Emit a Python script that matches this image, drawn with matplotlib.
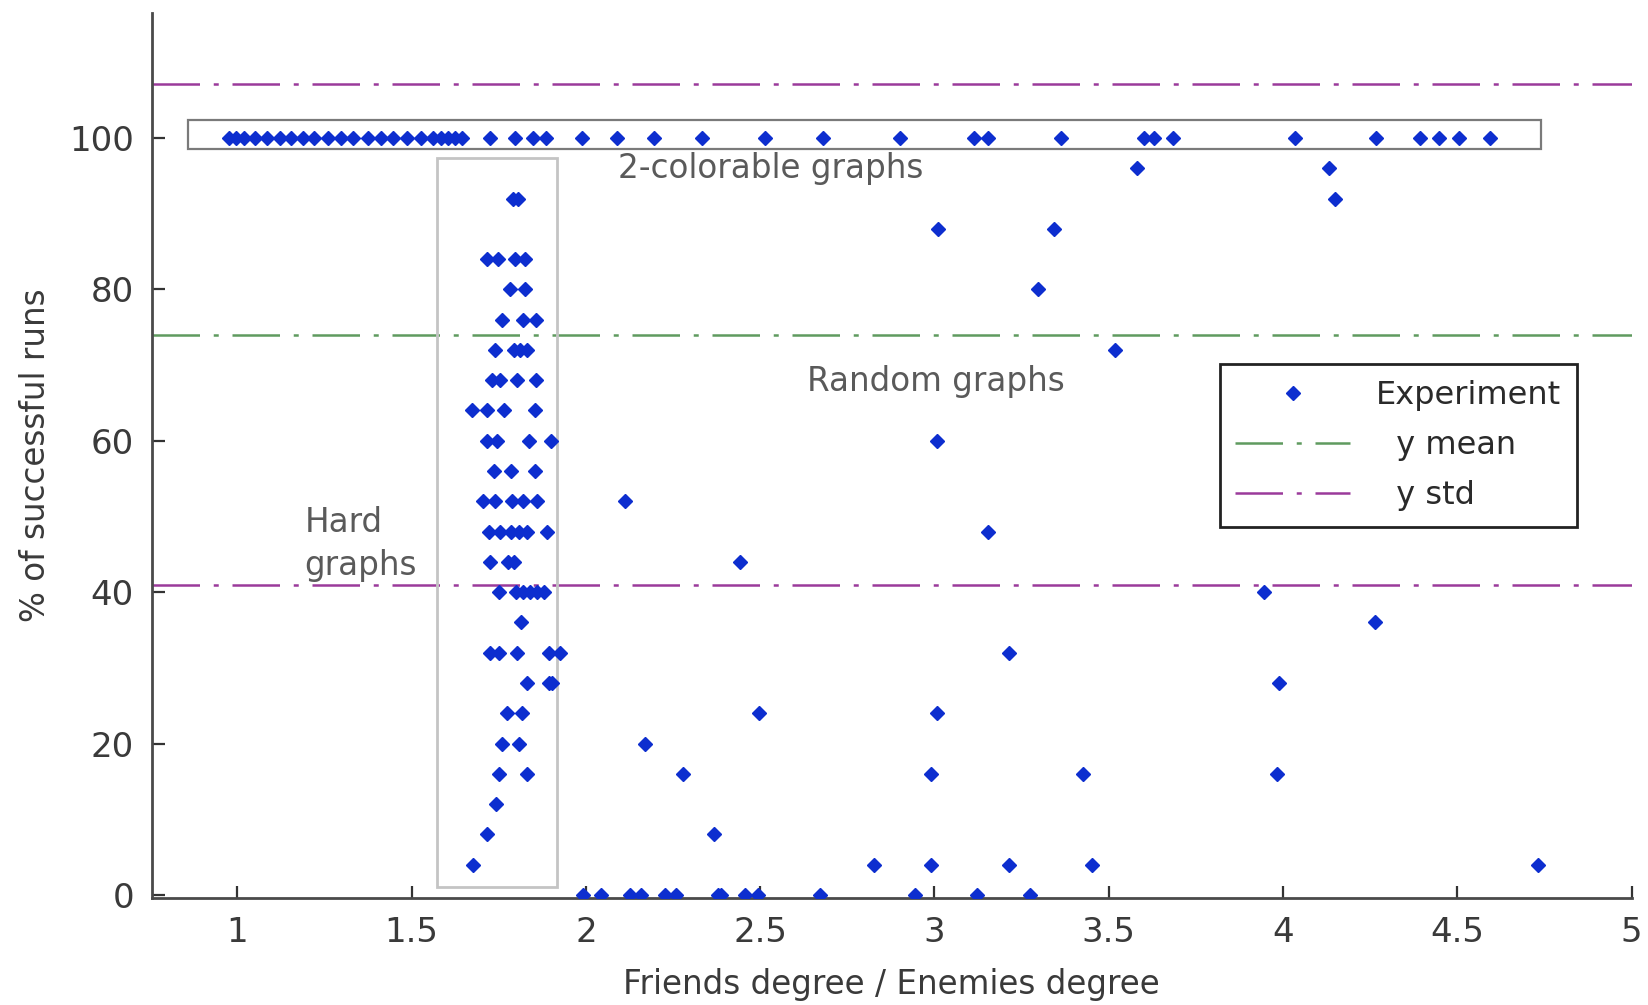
import numpy as np
import matplotlib.pyplot as plt
from matplotlib.patches import Rectangle

plt.rcParams["font.family"] = ["DejaVu Sans"]

# points at 100 %
top_x = [0.976, 0.995, 1.02, 1.052, 1.084, 1.123, 1.155, 1.187, 1.219, 1.259,
         1.296, 1.333, 1.374, 1.411, 1.447, 1.488, 1.526, 1.560, 1.583, 1.603,
         1.624, 1.644, 1.726, 1.796, 1.848, 1.885, 1.989, 2.089, 2.195, 2.333,
         2.514, 2.681, 2.900, 3.113, 3.155, 3.364, 3.601, 3.629, 3.684, 4.035,
         4.267, 4.392, 4.448, 4.504, 4.594]

# points at 0 %
zero_x = [1.991, 2.043, 2.126, 2.158, 2.227, 2.259, 2.379, 2.388, 2.456, 2.494,
          2.672, 2.945, 3.121, 3.275]

# hard graphs cluster
hard_x = [1.790, 1.806,
          1.716, 1.748, 1.798, 1.825,
          1.782, 1.825,
          1.760, 1.819, 1.857,
          1.740, 1.793, 1.812, 1.831,
          1.731, 1.755, 1.803, 1.857,
          1.673, 1.716, 1.764, 1.853,
          1.716, 1.745, 1.836, 1.899,
          1.736, 1.784, 1.855,
          1.705, 1.740, 1.788, 1.820, 1.860,
          1.721, 1.755, 1.784, 1.807, 1.831, 1.889,
          1.726, 1.776, 1.793,
          1.750, 1.800, 1.820, 1.840, 1.860, 1.879,
          1.815,
          1.726, 1.750, 1.803, 1.894, 1.927,
          1.831, 1.894, 1.903,
          1.774, 1.817,
          1.760, 1.807,
          1.750, 1.831,
          1.743,
          1.716,
          1.677]
hard_y = [92, 92,
          84, 84, 84, 84,
          80, 80,
          76, 76, 76,
          72, 72, 72, 72,
          68, 68, 68, 68,
          64, 64, 64, 64,
          60, 60, 60, 60,
          56, 56, 56,
          52, 52, 52, 52, 52,
          48, 48, 48, 48, 48, 48,
          44, 44, 44,
          40, 40, 40, 40, 40, 40,
          36,
          32, 32, 32, 32, 32,
          28, 28, 28,
          24, 24,
          20, 20,
          16, 16,
          12,
          8,
          4]

# remaining scattered points
other_x = [3.580, 4.132, 4.150, 3.011, 3.342, 3.297, 3.517, 3.008, 2.112, 3.155,
           2.441, 3.945, 4.265, 3.213, 3.990, 3.008, 2.498, 2.170, 2.278, 2.990,
           3.427, 3.984, 2.368, 2.827, 2.990, 3.213, 3.451, 4.732]
other_y = [96, 96, 92, 88, 88, 80, 72, 60, 52, 48,
           44, 40, 36, 32, 28, 24, 24, 20, 16, 16,
           16, 16, 8, 4, 4, 4, 4, 4]

y_mean = 74.0
y_std = 33.1

x = np.concatenate([top_x, zero_x, hard_x, other_x])
y = np.concatenate([np.full(len(top_x), 100), np.zeros(len(zero_x)), hard_y, other_y])

fig = plt.figure(figsize=(16.48, 10.05), dpi=100)
ax = fig.add_axes([0.0922, 0.1065, 0.8978, 0.8805])

dash = (0, (19, 5.5, 2, 5.5))
ax.axhline(y_mean, color="#5f9a5f", lw=1.8, linestyle=dash, label="  y mean", zorder=2)
ax.axhline(y_mean + y_std, color="#9b3a9b", lw=1.8, linestyle=dash, label="  y std", zorder=2)
ax.axhline(y_mean - y_std, color="#9b3a9b", lw=1.8, linestyle=dash, zorder=2)

# boxes around groups
ax.add_patch(Rectangle((0.858, 98.6), 3.883, 3.8, fill=False, ec="#7a7a7a", lw=1.6, zorder=3))
ax.add_patch(Rectangle((1.573, 1.0), 0.343, 96.4, fill=False, ec="#c4c4c4", lw=2, zorder=3))

ax.plot(x, y, linestyle="none", marker="D", ms=6.8, color="#0d2ecf",
        label="Experiment", zorder=4)

txt = dict(fontsize=23.5, color="#5a5a5a", va="center", ha="left")
ax.text(2.091, 96.0, "2-colorable graphs", **txt)
ax.text(2.634, 67.8, "Random graphs", **txt)
ax.text(1.193, 49.2, "Hard", **txt)
ax.text(1.193, 43.5, "graphs", **txt)

ax.set_xlim(0.755, 5.0)
ax.set_ylim(-0.4, 116.5)
ax.set_xticks([1, 1.5, 2, 2.5, 3, 3.5, 4, 4.5, 5])
ax.set_xticklabels(["1", "1.5", "2", "2.5", "3", "3.5", "4", "4.5", "5"])
ax.set_yticks([0, 20, 40, 60, 80, 100])

for side in ["top", "right"]:
    ax.spines[side].set_visible(False)
for side in ["left", "bottom"]:
    ax.spines[side].set_color("#4a4a4a")
    ax.spines[side].set_linewidth(2)
ax.tick_params(direction="in", length=9, width=1.6, color="#333333",
               labelsize=24.5, labelcolor="#3a3a3a", pad=13)

ax.set_xlabel("Friends degree / Enemies degree", fontsize=23.5, color="#3a3a3a", labelpad=14)
ax.set_ylabel("% of successful runs", fontsize=23.5, color="#3a3a3a", labelpad=12)

handles, labels = ax.get_legend_handles_labels()
order = [2, 0, 1]
leg = ax.legend([handles[i] for i in order], [labels[i] for i in order],
                loc="upper left", bbox_to_anchor=(0.740, 0.638),
                bbox_transform=fig.transFigure, fontsize=23, handlelength=3.6,
                fancybox=False, framealpha=1, edgecolor="#222222",
                borderpad=0.5, labelspacing=0.6, handletextpad=0.8,
                borderaxespad=0)
leg.get_frame().set_linewidth(2)
for t in leg.get_texts():
    t.set_color("#2a2a2a")

fig.savefig("out.png", dpi=100, facecolor="white")
